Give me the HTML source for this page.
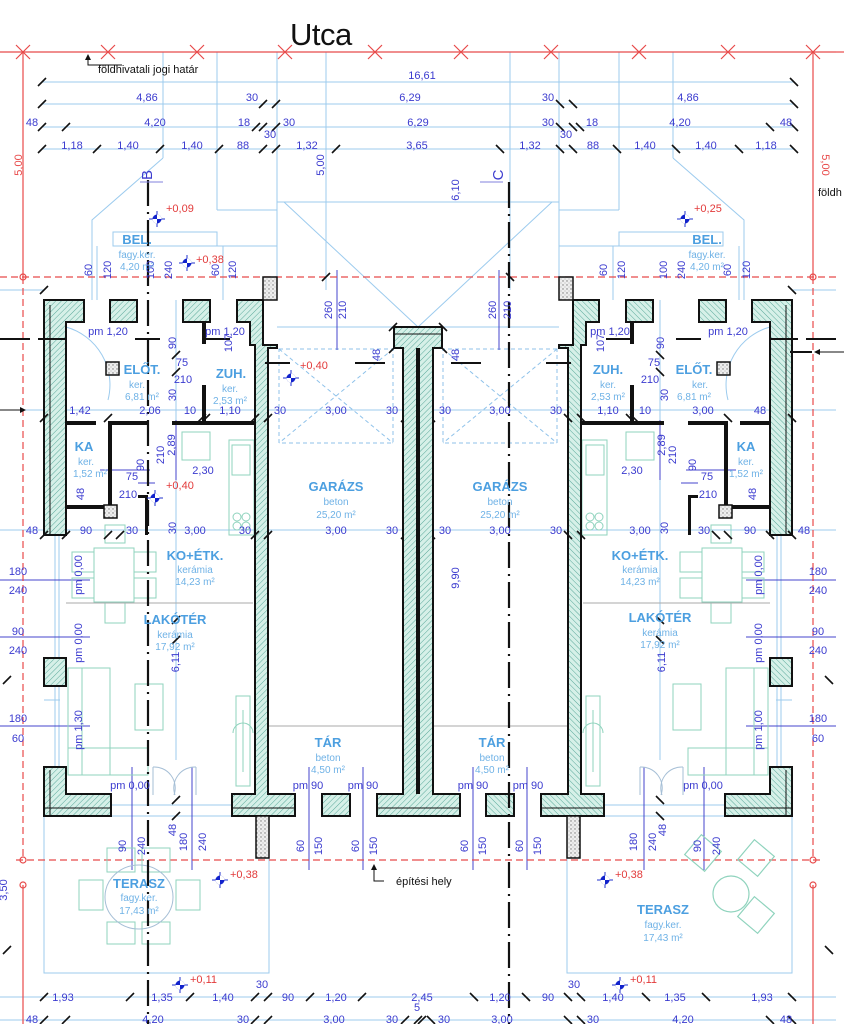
<!DOCTYPE html>
<html><head><meta charset="utf-8"><style>
html,body{margin:0;padding:0;background:#fff;}
svg{display:block;font-family:"Liberation Sans",sans-serif;}
.d{fill:#3b3bcf;font-size:11px;text-anchor:middle;}
.r{fill:#e23a3a;font-size:11px;}
.rn{fill:#4c9fe0;font-size:13px;font-weight:bold;text-anchor:middle;}
.rs{fill:#6fb2e6;font-size:10px;text-anchor:middle;}
</style></head><body>
<svg width="844" height="1024" viewBox="0 0 844 1024" xmlns="http://www.w3.org/2000/svg" xmlns:xlink="http://www.w3.org/1999/xlink">
<defs>
<pattern id="h" width="4" height="4" patternUnits="userSpaceOnUse" patternTransform="rotate(45)">
<rect width="4" height="4" fill="#d6f0e8"/><line x1="0" y1="0" x2="0" y2="4" stroke="#5aa89a" stroke-width="1"/>
</pattern>
<pattern id="dt" width="4" height="4" patternUnits="userSpaceOnUse">
<rect width="4" height="4" fill="#eeeeee"/><circle cx="1" cy="1" r="0.7" fill="#777"/><circle cx="3" cy="3" r="0.5" fill="#999"/>
</pattern>
<g id="tk"><line x1="-4" y1="4" x2="4" y2="-4" stroke="#111" stroke-width="1.6"/></g>
<g id="mk"><line x1="-8" y1="0" x2="8" y2="0" stroke="#2233cc" stroke-width="1"/><line x1="0" y1="-8" x2="0" y2="8" stroke="#2233cc" stroke-width="1"/><circle r="4.5" fill="#1122cc"/><path d="M0,-4.5 A4.5,4.5 0 0 1 4.5,0 L0,0Z M0,4.5 A4.5,4.5 0 0 1 -4.5,0 L0,0Z" fill="#fff"/></g>
</defs>

<g id="L">
 <g stroke="#9ccbee" stroke-width="1" fill="none">
  <line x1="42" y1="82" x2="418" y2="82"/>
  <line x1="42" y1="104" x2="418" y2="104"/>
  <line x1="42" y1="127" x2="418" y2="127"/>
  <line x1="42" y1="149" x2="418" y2="149"/>
  <line x1="163" y1="52" x2="163" y2="158"/>
  <line x1="217" y1="52" x2="217" y2="210"/>
  <line x1="277" y1="52" x2="277" y2="300"/>
  <line x1="217" y1="210" x2="277" y2="210"/>
  <line x1="277" y1="202" x2="418" y2="202"/>
  <line x1="284" y1="202" x2="418" y2="327"/>
  <line x1="277" y1="327" x2="394" y2="327"/>
  <line x1="326" y1="52" x2="326" y2="290"/>
  <polyline points="163,158 92,220 92,300"/>
  <rect x="113" y="232" width="104" height="14"/>
  <line x1="113" y1="246" x2="277" y2="246"/>
  <line x1="97" y1="246" x2="97" y2="300"/>
  <line x1="223" y1="246" x2="223" y2="300"/>
  <line x1="0" y1="290" x2="44" y2="290"/>
  <line x1="0" y1="410" x2="44" y2="410"/>
  <line x1="66" y1="410" x2="418" y2="410"/>
  <line x1="66" y1="530" x2="418" y2="530"/>
  <line x1="0" y1="530" x2="44" y2="530"/>
  <line x1="55" y1="535" x2="55" y2="767"/>
  <line x1="59" y1="535" x2="59" y2="767"/>
  <rect x="44" y="816" width="225" height="157"/>
  <line x1="0" y1="997" x2="418" y2="997"/>
  <line x1="0" y1="1020" x2="418" y2="1020"/>
  <line x1="176" y1="300" x2="176" y2="760"/>
  <line x1="66" y1="805" x2="232" y2="805"/>
  <line x1="44" y1="700" x2="60" y2="700"/>
 </g>
 <g stroke="#8fc2ea" stroke-width="1" fill="none" stroke-dasharray="4,3">
  <rect x="279" y="349" width="114" height="94"/>
  <line x1="279" y1="349" x2="393" y2="443"/>
  <line x1="393" y1="349" x2="279" y2="443"/>
 </g>
 <g stroke="#4444cc" stroke-width="1">
  <line x1="0" y1="580" x2="90" y2="580"/>
  <line x1="0" y1="637" x2="90" y2="637"/>
  <line x1="0" y1="726" x2="90" y2="726"/>
  <line x1="132" y1="767" x2="132" y2="870"/>
  <line x1="192" y1="767" x2="192" y2="870"/>
  <line x1="309" y1="767" x2="309" y2="870"/>
  <line x1="363" y1="767" x2="363" y2="870"/>
  <line x1="176" y1="420" x2="176" y2="480"/>
  <line x1="337" y1="270" x2="337" y2="350"/>
  <line x1="100" y1="470" x2="150" y2="470"/>
  <line x1="138" y1="483" x2="155" y2="483"/>
 </g>
 <g stroke="#e84a4a" stroke-width="1.2" fill="none">
  <line x1="0" y1="52" x2="418" y2="52"/>
  <line x1="23" y1="52" x2="23" y2="277"/>
  <line x1="23" y1="277" x2="23" y2="860" stroke-dasharray="7,4"/>
  <line x1="0" y1="277" x2="418" y2="277" stroke-dasharray="7,4"/>
  <line x1="16" y1="860" x2="418" y2="860" stroke-dasharray="7,4"/>
  <line x1="23" y1="885" x2="23" y2="1024"/>
  <path d="M16,45l14,14M30,45l-14,14M101,45l14,14M115,45l-14,14M190,45l14,14M204,45l-14,14M278,45l14,14M292,45l-14,14M368,45l14,14M382,45l-14,14"/>
  <circle cx="23" cy="277" r="3"/><circle cx="23" cy="860" r="3"/><circle cx="23" cy="885" r="3"/>
 </g>
 <g stroke="#8fd3bd" stroke-width="1" fill="none">
  <rect x="68" y="668" width="42" height="107"/>
  <rect x="82" y="668" width="28" height="107"/>
  <rect x="68" y="748" width="80" height="27"/>
  <rect x="135" y="684" width="28" height="46"/>
  <rect x="94" y="548" width="40" height="54"/>
  <rect x="72" y="552" width="22" height="20"/><rect x="72" y="578" width="22" height="20"/>
  <rect x="134" y="552" width="22" height="20"/><rect x="134" y="578" width="22" height="20"/>
  <rect x="105" y="603" width="20" height="20"/><rect x="105" y="525" width="20" height="18"/>
  <rect x="229" y="440" width="25" height="95"/>
  <rect x="232" y="445" width="18" height="30"/>
  <circle cx="237" cy="517" r="4"/><circle cx="246" cy="517" r="4"/><circle cx="237" cy="526" r="4"/><circle cx="246" cy="526" r="4"/>
  <rect x="182" y="432" width="28" height="28"/>
  <rect x="236" y="696" width="14" height="90"/>
  <line x1="243" y1="710" x2="243" y2="772"/>
  <path d="M233,733a10,10 0 0 1 20,0"/>
 </g>
 <g stroke="#a6bfd6" stroke-width="1" fill="none">
  <path d="M153,767a21,21 0 0 1 21,28M196,767a21,21 0 0 0 -21,28"/>
  <line x1="153" y1="767" x2="153" y2="795"/><line x1="196" y1="767" x2="196" y2="795"/>
  <path d="M66,327 A60,60 0 0 1 108,400" stroke="#9ccbee"/>
 </g>
 <g stroke="#aaaaaa" stroke-width="1">
  <line x1="66" y1="603" x2="253" y2="603"/>
  <line x1="268" y1="726" x2="405" y2="726"/>
 </g>
 <g fill="url(#h)" stroke="#111" stroke-width="2">
  <path d="M44,300H84V322H66V535H44Z"/>
  <rect x="110" y="300" width="27" height="22"/>
  <rect x="183" y="300" width="27" height="22"/>
  <path d="M237,300H263V345H277V348H268V794H295V816H232V794H255V345H250V322H237Z"/>
  <rect x="44" y="658" width="22" height="28"/>
  <path d="M44,767H66V794H111V816H44Z"/>
  <rect x="322" y="794" width="28" height="22"/>
  <path d="M377,794H418V816H377Z"/>
 </g>
 <g stroke="#111" stroke-width="1" fill="none">
  <line x1="50" y1="305" x2="50" y2="535"/><line x1="232" y1="808" x2="295" y2="808"/><line x1="377" y1="808" x2="418" y2="808"/><line x1="50" y1="770" x2="50" y2="816"/><line x1="44" y1="808" x2="111" y2="808"/>
 </g>
 <g fill="#111">
  <rect x="66" y="421" width="30" height="4"/><rect x="108" y="421" width="40" height="4"/><rect x="172" y="421" width="83" height="4"/>
  <rect x="108" y="425" width="4" height="80"/>
  <rect x="66" y="505" width="44" height="4"/>
  <rect x="202" y="322" width="4" height="22"/><rect x="202" y="385" width="4" height="38"/>
  <rect x="145" y="495" width="3" height="40"/><rect x="138" y="495" width="10" height="3"/>
 </g>
 <rect x="263" y="277" width="14" height="23" fill="url(#dt)" stroke="#111" stroke-width="1.5"/>
 <rect x="256" y="816" width="13" height="42" fill="url(#dt)" stroke="#111" stroke-width="1.5"/>
 <rect x="104" y="505" width="13" height="13" fill="url(#dt)" stroke="#111" stroke-width="1.5"/>
 <rect x="106" y="362" width="13" height="13" fill="url(#dt)" stroke="#111" stroke-width="1.5"/>
 <g stroke="#111" stroke-width="2">
  <line x1="0" y1="339" x2="30" y2="339"/><line x1="38" y1="339" x2="66" y2="339"/><line x1="135" y1="339" x2="160" y2="339"/><line x1="205" y1="339" x2="230" y2="339"/>
  <line x1="265" y1="363" x2="290" y2="363"/><line x1="355" y1="363" x2="385" y2="363"/>
 </g>
 <g>
  <use href="#tk" xlink:href="#tk" x="42" y="82"/><use href="#tk" xlink:href="#tk" x="42" y="104"/><use href="#tk" xlink:href="#tk" x="42" y="127"/><use href="#tk" xlink:href="#tk" x="42" y="149"/>
  <use href="#tk" xlink:href="#tk" x="66" y="127"/><use href="#tk" xlink:href="#tk" x="97" y="149"/><use href="#tk" xlink:href="#tk" x="160" y="149"/><use href="#tk" xlink:href="#tk" x="219" y="149"/>
  <use href="#tk" xlink:href="#tk" x="263" y="104"/><use href="#tk" xlink:href="#tk" x="276" y="104"/><use href="#tk" xlink:href="#tk" x="256" y="127"/><use href="#tk" xlink:href="#tk" x="263" y="127"/><use href="#tk" xlink:href="#tk" x="276" y="127"/>
  <use href="#tk" xlink:href="#tk" x="263" y="149"/><use href="#tk" xlink:href="#tk" x="276" y="149"/><use href="#tk" xlink:href="#tk" x="336" y="149"/>
  <use href="#tk" xlink:href="#tk" x="44" y="418"/><use href="#tk" xlink:href="#tk" x="108" y="418"/><use href="#tk" xlink:href="#tk" x="202" y="418"/><use href="#tk" xlink:href="#tk" x="206" y="418"/><use href="#tk" xlink:href="#tk" x="255" y="418"/><use href="#tk" xlink:href="#tk" x="268" y="418"/>
  <use href="#tk" xlink:href="#tk" x="44" y="535"/><use href="#tk" xlink:href="#tk" x="66" y="535"/><use href="#tk" xlink:href="#tk" x="108" y="535"/><use href="#tk" xlink:href="#tk" x="120" y="535"/><use href="#tk" xlink:href="#tk" x="255" y="535"/><use href="#tk" xlink:href="#tk" x="268" y="535"/><use href="#tk" xlink:href="#tk" x="405" y="535"/>
  <use href="#tk" xlink:href="#tk" x="405" y="418"/>
  <use href="#tk" xlink:href="#tk" x="44" y="997"/><use href="#tk" xlink:href="#tk" x="130" y="997"/><use href="#tk" xlink:href="#tk" x="190" y="997"/><use href="#tk" xlink:href="#tk" x="255" y="997"/><use href="#tk" xlink:href="#tk" x="268" y="997"/><use href="#tk" xlink:href="#tk" x="310" y="997"/><use href="#tk" xlink:href="#tk" x="362" y="997"/>
  <use href="#tk" xlink:href="#tk" x="44" y="1020"/><use href="#tk" xlink:href="#tk" x="66" y="1020"/><use href="#tk" xlink:href="#tk" x="255" y="1020"/><use href="#tk" xlink:href="#tk" x="268" y="1020"/><use href="#tk" xlink:href="#tk" x="405" y="1020"/>
  <use href="#tk" xlink:href="#tk" x="176" y="800"/><use href="#tk" xlink:href="#tk" x="176" y="816"/><use href="#tk" xlink:href="#tk" x="176" y="640"/><use href="#tk" xlink:href="#tk" x="176" y="620"/>
  <use href="#tk" xlink:href="#tk" x="326" y="277"/><use href="#tk" xlink:href="#tk" x="393" y="327"/><use href="#tk" xlink:href="#tk" x="393" y="349"/><use href="#tk" xlink:href="#tk" x="176" y="355"/><use href="#tk" xlink:href="#tk" x="176" y="372"/>
  <use href="#tk" xlink:href="#tk" x="7" y="680"/><use href="#tk" xlink:href="#tk" x="7" y="950"/><use href="#tk" xlink:href="#tk" x="44" y="290"/>
 </g>
</g>
<use href="#L" xlink:href="#L" transform="translate(836,0) scale(-1,1)"/>
<line x1="836" y1="52" x2="844" y2="52" stroke="#e84a4a" stroke-width="1.2"/>

<!-- left terrace furniture (not mirrored) -->
<g stroke="#8fd3bd" stroke-width="1" fill="none">
  <rect x="107" y="848" width="28" height="24"/><rect x="142" y="848" width="28" height="24"/>
  <rect x="79" y="880" width="24" height="30"/><rect x="176" y="880" width="24" height="30"/>
  <rect x="107" y="922" width="28" height="22"/><rect x="142" y="922" width="28" height="22"/>
</g>
<ellipse cx="139" cy="897" rx="34" ry="32" stroke="#a6bfd6" fill="none"/>

<!-- axis B -->
<line x1="148" y1="180" x2="148" y2="1024" stroke="#111" stroke-width="2.2" stroke-dasharray="26,6,2,6"/>
<line x1="140" y1="182" x2="163" y2="182" stroke="#8080dd"/>
<line x1="0" y1="410" x2="20" y2="410" stroke="#111"/><path d="M20,407l6,3l-6,3z" fill="#111"/>

<!-- spine -->
<path d="M394,327H442V348H433V794H460V816H377V794H403V348H394Z" fill="url(#h)" stroke="#111" stroke-width="2"/>
<line x1="394" y1="334" x2="442" y2="334" stroke="#111"/>
<rect x="416" y="348" width="4" height="446" fill="#111"/>
<line x1="377" y1="808" x2="460" y2="808" stroke="#111"/>
<use href="#tk" xlink:href="#tk" x="418" y="1020"/><use href="#tk" xlink:href="#tk" x="422" y="1020"/>

<!-- axis C -->
<line x1="509" y1="182" x2="509" y2="1024" stroke="#111" stroke-width="2.2" stroke-dasharray="26,6,2,6"/>
<line x1="480" y1="182" x2="503" y2="182" stroke="#8080dd"/>
<line x1="820" y1="352" x2="844" y2="352" stroke="#111"/><path d="M820,349l-6,3l6,3z" fill="#111"/>
<line x1="790" y1="352" x2="812" y2="352" stroke="#111" stroke-width="2"/>

<g stroke="#8fd3bd" stroke-width="1.2" fill="none">
 <rect x="690" y="840" width="26" height="26" transform="rotate(40 703 853)"/>
 <rect x="743" y="845" width="26" height="26" transform="rotate(40 756 858)"/>
 <rect x="743" y="902" width="26" height="26" transform="rotate(40 756 915)"/>
 <circle cx="731" cy="894" r="18"/>
</g>

<text x="290" y="45" font-size="31" fill="#111" letter-spacing="-0.5">Utca</text>
<path d="M88,57v8h34" stroke="#111" fill="none"/><path d="M85,60l3,-6l3,6z" fill="#111"/>
<text x="98" y="73" font-size="11" fill="#111">földhivatali jogi határ</text>
<path d="M374,867v14h10" stroke="#111" fill="none"/><path d="M371,870l3,-6l3,6z" fill="#111"/>
<text x="396" y="885" font-size="11" fill="#111">építési hely</text>
<text x="818" y="196" font-size="11" fill="#111">földh</text>

<g class="d">
<text x="422" y="79">16,61</text>
<text x="147" y="101">4,86</text><text x="252" y="101">30</text><text x="410" y="101">6,29</text><text x="548" y="101">30</text><text x="688" y="101">4,86</text>
<text x="32" y="126">48</text><text x="155" y="126">4,20</text><text x="244" y="126">18</text><text x="289" y="126">30</text><text x="270" y="138">30</text><text x="418" y="126">6,29</text><text x="548" y="126">30</text><text x="592" y="126">18</text><text x="566" y="138">30</text><text x="680" y="126">4,20</text><text x="786" y="126">48</text>
<text x="72" y="149">1,18</text><text x="128" y="149">1,40</text><text x="192" y="149">1,40</text><text x="243" y="149">88</text><text x="307" y="149">1,32</text><text x="417" y="149">3,65</text><text x="530" y="149">1,32</text><text x="593" y="149">88</text><text x="645" y="149">1,40</text><text x="706" y="149">1,40</text><text x="766" y="149">1,18</text>
<text x="108" y="335">pm 1,20</text><text x="225" y="335">pm 1,20</text><text x="610" y="335">pm 1,20</text><text x="728" y="335">pm 1,20</text>
<text x="182" y="366">75</text><text x="183" y="383">210</text><text x="654" y="366">75</text><text x="650" y="383">210</text>
<text x="80" y="414">1,42</text><text x="150" y="414">2,06</text><text x="190" y="414">10</text><text x="230" y="414">1,10</text><text x="280" y="414">30</text><text x="336" y="414">3,00</text><text x="392" y="414">30</text>
<text x="445" y="414">30</text><text x="500" y="414">3,00</text><text x="556" y="414">30</text><text x="608" y="414">1,10</text><text x="645" y="414">10</text><text x="703" y="414">3,00</text><text x="760" y="414">48</text>
<text x="203" y="474">2,30</text><text x="632" y="474">2,30</text>
<text x="132" y="480">75</text><text x="128" y="498">210</text><text x="707" y="480">75</text><text x="708" y="498">210</text>
<text x="32" y="534">48</text><text x="86" y="534">90</text><text x="132" y="534">30</text><text x="195" y="534">3,00</text><text x="245" y="534">30</text><text x="336" y="534">3,00</text><text x="392" y="534">30</text>
<text x="445" y="534">30</text><text x="500" y="534">3,00</text><text x="556" y="534">30</text><text x="640" y="534">3,00</text><text x="704" y="534">30</text><text x="750" y="534">90</text><text x="804" y="534">48</text>
<text x="18" y="575">180</text><text x="18" y="594">240</text><text x="18" y="635">90</text><text x="18" y="654">240</text><text x="18" y="722">180</text><text x="18" y="742">60</text>
<text x="818" y="575">180</text><text x="818" y="594">240</text><text x="818" y="635">90</text><text x="818" y="654">240</text><text x="818" y="722">180</text><text x="818" y="742">60</text>
<text x="130" y="789">pm 0,00</text><text x="308" y="789">pm 90</text><text x="363" y="789">pm 90</text>
<text x="473" y="789">pm 90</text><text x="528" y="789">pm 90</text><text x="703" y="789">pm 0,00</text>
<text x="63" y="1001">1,93</text><text x="162" y="1001">1,35</text><text x="223" y="1001">1,40</text><text x="262" y="988">30</text><text x="288" y="1001">90</text><text x="336" y="1001">1,20</text><text x="422" y="1001">2,45</text><text x="500" y="1001">1,20</text><text x="548" y="1001">90</text><text x="574" y="988">30</text><text x="613" y="1001">1,40</text><text x="675" y="1001">1,35</text><text x="762" y="1001">1,93</text>
<text x="32" y="1023">48</text><text x="153" y="1023">4,20</text><text x="243" y="1023">30</text><text x="334" y="1023">3,00</text><text x="392" y="1023">30</text><text x="417" y="1011">5</text><text x="444" y="1023">30</text><text x="502" y="1023">3,00</text><text x="593" y="1023">30</text><text x="683" y="1023">4,20</text><text x="786" y="1023">48</text>
</g>
<g class="d">
<g transform="translate(152,175) rotate(-90)"><text font-size="15">B</text></g>
<g transform="translate(503,175) rotate(-90)"><text font-size="15">C</text></g>
<g transform="translate(324,165) rotate(-90)"><text>5,00</text></g>
<g transform="translate(459,190) rotate(-90)"><text>6,10</text></g>
<g transform="translate(332,310) rotate(-90)"><text>260</text></g><g transform="translate(346,310) rotate(-90)"><text>210</text></g>
<g transform="translate(496,310) rotate(-90)"><text>260</text></g><g transform="translate(511,310) rotate(-90)"><text>210</text></g>
<g transform="translate(380,355) rotate(-90)"><text>48</text></g><g transform="translate(459,355) rotate(-90)"><text>48</text></g>
<g transform="translate(92,270) rotate(-90)"><text>60</text></g><g transform="translate(111,270) rotate(-90)"><text>120</text></g><g transform="translate(154,270) rotate(-90)"><text>100</text></g><g transform="translate(172,270) rotate(-90)"><text>240</text></g><g transform="translate(219,270) rotate(-90)"><text>60</text></g><g transform="translate(236,270) rotate(-90)"><text>120</text></g>
<g transform="translate(607,270) rotate(-90)"><text>60</text></g><g transform="translate(625,270) rotate(-90)"><text>120</text></g><g transform="translate(667,270) rotate(-90)"><text>100</text></g><g transform="translate(685,270) rotate(-90)"><text>240</text></g><g transform="translate(731,270) rotate(-90)"><text>60</text></g><g transform="translate(750,270) rotate(-90)"><text>120</text></g>
<g transform="translate(176,343) rotate(-90)"><text>90</text></g><g transform="translate(232,343) rotate(-90)"><text>107</text></g>
<g transform="translate(604,343) rotate(-90)"><text>107</text></g><g transform="translate(664,343) rotate(-90)"><text>90</text></g>
<g transform="translate(176,395) rotate(-90)"><text>30</text></g><g transform="translate(668,395) rotate(-90)"><text>30</text></g>
<g transform="translate(164,455) rotate(-90)"><text>210</text></g><g transform="translate(175,445) rotate(-90)"><text>2,89</text></g><g transform="translate(144,465) rotate(-90)"><text>90</text></g>
<g transform="translate(676,455) rotate(-90)"><text>210</text></g><g transform="translate(665,445) rotate(-90)"><text>2,89</text></g><g transform="translate(696,465) rotate(-90)"><text>90</text></g>
<g transform="translate(84,494) rotate(-90)"><text>48</text></g><g transform="translate(756,494) rotate(-90)"><text>48</text></g>
<g transform="translate(176,528) rotate(-90)"><text>30</text></g><g transform="translate(668,528) rotate(-90)"><text>30</text></g>
<g transform="translate(82,575) rotate(-90)"><text>pm 0,00</text></g><g transform="translate(82,643) rotate(-90)"><text>pm 0,00</text></g><g transform="translate(82,730) rotate(-90)"><text>pm 1,30</text></g>
<g transform="translate(762,575) rotate(-90)"><text>pm 0,00</text></g><g transform="translate(762,643) rotate(-90)"><text>pm 0,00</text></g><g transform="translate(762,730) rotate(-90)"><text>pm 1,00</text></g>
<g transform="translate(179,662) rotate(-90)"><text>6,11</text></g><g transform="translate(665,662) rotate(-90)"><text>6,11</text></g>
<g transform="translate(459,578) rotate(-90)"><text>9,90</text></g>
<g transform="translate(126,846) rotate(-90)"><text>90</text></g><g transform="translate(145,846) rotate(-90)"><text>240</text></g><g transform="translate(176,830) rotate(-90)"><text>48</text></g><g transform="translate(187,842) rotate(-90)"><text>180</text></g><g transform="translate(206,842) rotate(-90)"><text>240</text></g>
<g transform="translate(304,846) rotate(-90)"><text>60</text></g><g transform="translate(322,846) rotate(-90)"><text>150</text></g><g transform="translate(359,846) rotate(-90)"><text>60</text></g><g transform="translate(377,846) rotate(-90)"><text>150</text></g>
<g transform="translate(468,846) rotate(-90)"><text>60</text></g><g transform="translate(486,846) rotate(-90)"><text>150</text></g><g transform="translate(523,846) rotate(-90)"><text>60</text></g><g transform="translate(541,846) rotate(-90)"><text>150</text></g>
<g transform="translate(637,842) rotate(-90)"><text>180</text></g><g transform="translate(656,842) rotate(-90)"><text>240</text></g><g transform="translate(666,830) rotate(-90)"><text>48</text></g><g transform="translate(701,846) rotate(-90)"><text>90</text></g><g transform="translate(720,846) rotate(-90)"><text>240</text></g>
</g>
<g transform="translate(22,165) rotate(-90)"><text fill="#e84a4a" font-size="11" text-anchor="middle">5,00</text></g>
<g transform="translate(822,165) rotate(90)"><text fill="#e84a4a" font-size="11" text-anchor="middle">5,00</text></g>
<g transform="translate(7,890) rotate(-90)"><text class="d">3,50</text></g>

<use href="#mk" xlink:href="#mk" x="157" y="219"/><text class="r" x="166" y="212">+0,09</text>
<use href="#mk" xlink:href="#mk" x="187" y="263"/><text class="r" x="196" y="263">+0,38</text>
<use href="#mk" xlink:href="#mk" x="291" y="378"/><text class="r" x="300" y="369">+0,40</text>
<use href="#mk" xlink:href="#mk" x="155" y="498"/><text class="r" x="166" y="489">+0,40</text>
<use href="#mk" xlink:href="#mk" x="220" y="880"/><text class="r" x="230" y="878">+0,38</text>
<use href="#mk" xlink:href="#mk" x="180" y="985"/><text class="r" x="190" y="983">+0,11</text>
<use href="#mk" xlink:href="#mk" x="685" y="219"/><text class="r" x="694" y="212">+0,25</text>
<use href="#mk" xlink:href="#mk" x="605" y="880"/><text class="r" x="615" y="878">+0,38</text>
<use href="#mk" xlink:href="#mk" x="620" y="985"/><text class="r" x="630" y="983">+0,11</text>

<text class="rn" x="137" y="244">BEL.</text><text class="rs" x="137" y="258">fagy.ker.</text><text class="rs" x="137" y="270">4,20 m²</text>
<text class="rn" x="707" y="244">BEL.</text><text class="rs" x="707" y="258">fagy.ker.</text><text class="rs" x="707" y="270">4,20 m²</text>
<text class="rn" x="142" y="374">ELŐT.</text><text class="rs" x="137" y="388">ker.</text><text class="rs" x="142" y="400">6,81 m²</text>
<text class="rn" x="231" y="378">ZUH.</text><text class="rs" x="230" y="392">ker.</text><text class="rs" x="230" y="404">2,53 m²</text>
<text class="rn" x="694" y="374">ELŐT.</text><text class="rs" x="700" y="388">ker.</text><text class="rs" x="694" y="400">6,81 m²</text>
<text class="rn" x="608" y="374">ZUH.</text><text class="rs" x="608" y="388">ker.</text><text class="rs" x="608" y="400">2,53 m²</text>
<text class="rn" x="84" y="451">KA</text><text class="rs" x="86" y="465">ker.</text><text class="rs" x="90" y="477">1,52 m²</text>
<text class="rn" x="746" y="451">KA</text><text class="rs" x="746" y="465">ker.</text><text class="rs" x="746" y="477">1,52 m²</text>
<text class="rn" x="336" y="491">GARÁZS</text><text class="rs" x="336" y="505">beton</text><text class="rs" x="336" y="518">25,20 m²</text>
<text class="rn" x="500" y="491">GARÁZS</text><text class="rs" x="500" y="505">beton</text><text class="rs" x="500" y="518">25,20 m²</text>
<text class="rn" x="195" y="560">KO+ÉTK.</text><text class="rs" x="195" y="573">kerámia</text><text class="rs" x="195" y="585">14,23 m²</text>
<text class="rn" x="640" y="560">KO+ÉTK.</text><text class="rs" x="640" y="573">kerámia</text><text class="rs" x="640" y="585">14,23 m²</text>
<text class="rn" x="175" y="624">LAKÓTÉR</text><text class="rs" x="175" y="638">kerámia</text><text class="rs" x="175" y="650">17,92 m²</text>
<text class="rn" x="660" y="622">LAKÓTÉR</text><text class="rs" x="660" y="636">kerámia</text><text class="rs" x="660" y="648">17,92 m²</text>
<text class="rn" x="328" y="747">TÁR</text><text class="rs" x="328" y="761">beton</text><text class="rs" x="328" y="773">4,50 m²</text>
<text class="rn" x="492" y="747">TÁR</text><text class="rs" x="492" y="761">beton</text><text class="rs" x="492" y="773">4,50 m²</text>
<text class="rn" x="139" y="888">TERASZ</text><text class="rs" x="139" y="901">fagy.ker.</text><text class="rs" x="139" y="914">17,43 m²</text>
<text class="rn" x="663" y="914">TERASZ</text><text class="rs" x="663" y="928">fagy.ker.</text><text class="rs" x="663" y="941">17,43 m²</text>
</svg>
</body></html>
